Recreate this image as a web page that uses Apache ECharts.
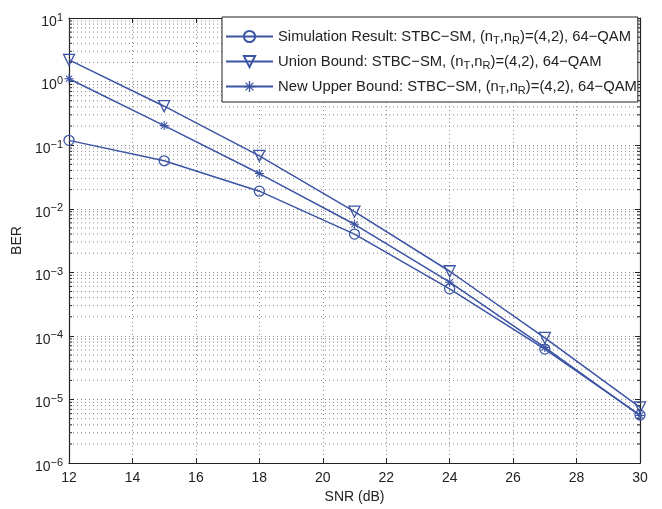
<!DOCTYPE html>
<html>
<head>
<meta charset="utf-8">
<script src="https://cdn.jsdelivr.net/npm/echarts@6/dist/echarts.min.js"></script>
<style>html,body{margin:0;padding:0;background:#fff}#c{width:662px;height:509px}</style>
</head>
<body>
<div id="c"></div>
<script>
var snr = [12, 15, 18, 21, 24, 27, 30];
var simResult = [0.119, 0.0568, 0.0189, 0.0040, 5.5e-4, 6.2e-5, 5.7e-6];
var unionBound = [2.2, 0.41, 0.068, 0.009, 1.04e-3, 9.3e-5, 7.5e-6];
var newUpper = [1.11, 0.203, 0.0358, 0.0057, 7.0e-4, 6.6e-5, 5.6e-6];
var xTicks = [12, 14, 16, 18, 20, 22, 24, 26, 28, 30];
var decades = [-6, -5, -4, -3, -2, -1, 0, 1];
var names = [
  'Simulation Result: STBC\u2212SM, (n{sub|T},n{sub|R})=(4,2), 64\u2212QAM',
  'Union Bound: STBC\u2212SM, (n{sub|T},n{sub|R})=(4,2), 64\u2212QAM',
  'New Upper Bound: STBC\u2212SM, (n{sub|T},n{sub|R})=(4,2), 64\u2212QAM'
];

var minorVals = [];
for (var d = -6; d < 1; d++) {
  for (var m = 2; m <= 9; m++) minorVals.push(m * Math.pow(10, d));
}

var BLUE = '#3b54a4';
var FONT = 'Liberation Sans, Arial, sans-serif';
var star = 'path://M4.4,0 H5.6 V10 H4.4 Z M0,4.4 H10 V5.6 H0 Z M1.1,1.9 L1.9,1.1 L8.9,8.1 L8.1,8.9 Z M8.1,1.1 L8.9,1.9 L1.9,8.9 L1.1,8.1 Z';
var triDown = 'path://M0,0 L10,0 L5,9 Z';

function mk(name, data, symbol, size, fill) {
  return {
    name: name, type: 'line', xAxisIndex: 0, yAxisIndex: 0,
    data: snr.map(function (x, i) { return [x, data[i]]; }),
    symbol: symbol, symbolSize: size, showAllSymbol: true,
    lineStyle: { color: BLUE, width: 1.5 },
    itemStyle: { color: fill, borderColor: BLUE, borderWidth: fill === BLUE ? 0 : 1.3 },
    emphasis: { disabled: true }, animation: false, z: 5
  };
}

var chart = echarts.init(document.getElementById('c'), null, { renderer: 'canvas' });
var gridDot = { color: '#8a8a8a', type: [1, 3], width: 1 };

chart.setOption({
  animation: false,
  backgroundColor: '#fff',
  grid: { left: 69, right: 22, top: 18, bottom: 36, containLabel: false },
  xAxis: [{
    type: 'value', min: 12, max: 30, interval: 2, position: 'bottom',
    axisLine: { show: true, onZero: false, lineStyle: { color: '#222', width: 1.2 } },
    axisTick: { show: true, inside: true, length: 5, lineStyle: { color: '#222' } },
    axisLabel: { color: '#222', fontFamily: FONT, fontSize: 14, margin: 8 },
    splitLine: { show: true, lineStyle: gridDot },
    name: 'SNR (dB)', nameLocation: 'middle', nameGap: 25,
    nameTextStyle: { color: '#222', fontFamily: FONT, fontSize: 14 }
  }, {
    type: 'value', min: 12, max: 30, interval: 2, position: 'top',
    axisLine: { show: true, onZero: false, lineStyle: { color: '#222', width: 1.2 } },
    axisTick: { show: true, inside: true, length: 5, lineStyle: { color: '#222' } },
    axisLabel: { show: false }, splitLine: { show: false }
  }],
  yAxis: [{
    type: 'log', logBase: 10, min: 1e-6, max: 10, splitNumber: 7, position: 'left',
    axisLine: { show: true, onZero: false, lineStyle: { color: '#222', width: 1.2 } },
    axisTick: { show: true, inside: true, length: 5, lineStyle: { color: '#222' } },
    splitLine: { show: true, lineStyle: gridDot },
    axisLabel: {
      color: '#222', fontFamily: FONT, fontSize: 14, margin: 6, padding: [8, 0, 0, 0],
      formatter: function (v) {
        var e = Math.round(Math.log(v) / Math.LN10);
        return '{b|10}{s|' + (e < 0 ? '\u2212' + (-e) : e) + '}';
      },
      rich: {
        b: { fontSize: 14, fontFamily: FONT, color: '#222' },
        s: { fontSize: 11, fontFamily: FONT, color: '#222', padding: [0, 0, 9, 0] }
      }
    },
    name: 'BER', nameLocation: 'middle', nameGap: 34, nameRotate: 90,
    nameTextStyle: { color: '#222', fontFamily: FONT, fontSize: 14 }
  }, {
    type: 'log', logBase: 10, min: 1e-6, max: 10, splitNumber: 7, position: 'right',
    axisLine: { show: true, onZero: false, lineStyle: { color: '#222', width: 1.2 } },
    axisTick: { show: true, inside: true, length: 5, lineStyle: { color: '#222' } },
    axisLabel: { show: false }, splitLine: { show: false }
  }],
  legend: {
    orient: 'vertical', left: 222, top: 17,
    padding: [12, 1, 6, 3], itemGap: 8, itemWidth: 47, itemHeight: 14,
    backgroundColor: '#fff', borderColor: '#222', borderWidth: 1,
    selectedMode: false,
    data: names,
    textStyle: {
      color: '#222', fontFamily: FONT, fontSize: 14.8,
      rich: { sub: { fontSize: 11, fontFamily: FONT, color: '#222', padding: [8, 0, 0, 0] } }
    }
  },
  series: [
    {
      type: 'custom', name: 'minorGrid', silent: true, z: 1,
      data: minorVals.map(function (v) { return [12, v]; }),
      renderItem: function (params, api) {
        var cs = params.coordSys;
        var p = api.coord([12, api.value(1)]);
        var y = p[1];
        return {
          type: 'group', children: [
            { type: 'line', shape: { x1: cs.x, y1: y, x2: cs.x + cs.width, y2: y },
              style: { stroke: '#8a8a8a', lineWidth: 1, lineDash: [1, 3] } },
            { type: 'line', shape: { x1: cs.x, y1: y, x2: cs.x + 3, y2: y },
              style: { stroke: '#222', lineWidth: 1 } },
            { type: 'line', shape: { x1: cs.x + cs.width - 3, y1: y, x2: cs.x + cs.width, y2: y },
              style: { stroke: '#222', lineWidth: 1 } }
          ]
        };
      }
    },
    mk(names[0], simResult, 'circle', 10, 'rgba(255,255,255,0)'),
    mk(names[1], unionBound, triDown, 11, 'rgba(255,255,255,0)'),
    mk(names[2], newUpper, star, 9, BLUE)
  ]
});
</script>
</body>
</html>
